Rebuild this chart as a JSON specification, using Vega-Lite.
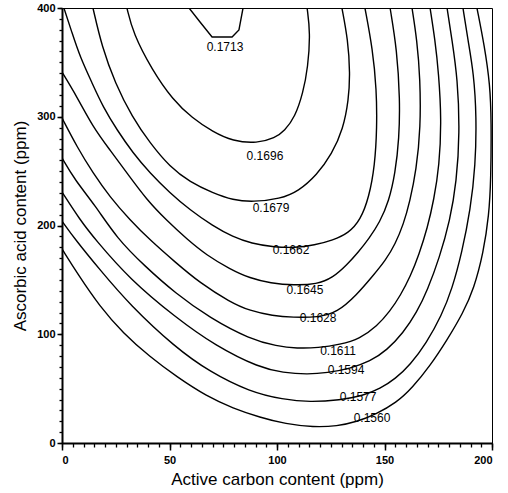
{
 "$schema": "https://vega.github.io/schema/vega-lite/v6.json",
 "width": 430, "height": 435,
 "autosize": {"type": "none"},
 "padding": {"left": 62, "top": 8, "right": 16, "bottom": 50},
 "background": "white",
 "config": {
  "view": {"stroke": "black", "strokeWidth": 1},
  "axis": {"grid": false, "domainColor": "black", "tickColor": "black", "labelColor": "black", "titleColor": "black", "labelFont": "Liberation Sans", "titleFont": "Liberation Sans"}
 },
 "datasets": {
  "contours": [
   {"c":"0.1713","i":0,"x":59.1,"y":400},{"c":"0.1713","i":1,"x":64.2,"y":387.1},{"c":"0.1713","i":2,"x":69.8,"y":373.3},{"c":"0.1713","i":3,"x":79.1,"y":373.3},{"c":"0.1713","i":4,"x":82.3,"y":379.8},{"c":"0.1713","i":5,"x":84.2,"y":400},
   {"c":"0.1696","i":0,"x":30.2,"y":400},{"c":"0.1696","i":1,"x":33.0,"y":377},{"c":"0.1696","i":2,"x":41.9,"y":343},{"c":"0.1696","i":3,"x":51.6,"y":315.4},{"c":"0.1696","i":4,"x":60.5,"y":298.9},{"c":"0.1696","i":5,"x":70.2,"y":286},{"c":"0.1696","i":6,"x":79.5,"y":277.5},{"c":"0.1696","i":7,"x":90.7,"y":275.5},{"c":"0.1696","i":8,"x":99.1,"y":280.5},{"c":"0.1696","i":9,"x":103.5,"y":287},{"c":"0.1696","i":10,"x":108.4,"y":299.8},{"c":"0.1696","i":11,"x":112.1,"y":321.8},{"c":"0.1696","i":12,"x":114.4,"y":345.7},{"c":"0.1696","i":13,"x":115.5,"y":377},{"c":"0.1696","i":14,"x":114.0,"y":400},
   {"c":"0.1679","i":0,"x":14.4,"y":400},{"c":"0.1679","i":1,"x":18.6,"y":364.1},{"c":"0.1679","i":2,"x":24.7,"y":331},{"c":"0.1679","i":3,"x":32.6,"y":299.8},{"c":"0.1679","i":4,"x":40.9,"y":275.9},{"c":"0.1679","i":5,"x":50.2,"y":253.8},{"c":"0.1679","i":6,"x":59.5,"y":240},{"c":"0.1679","i":7,"x":70.2,"y":229.9},{"c":"0.1679","i":8,"x":79.5,"y":223.4},{"c":"0.1679","i":9,"x":88.8,"y":221.6},{"c":"0.1679","i":10,"x":101.4,"y":224.5},{"c":"0.1679","i":11,"x":110,"y":231.5},{"c":"0.1679","i":12,"x":118.5,"y":246.5},{"c":"0.1679","i":13,"x":125.5,"y":265.5},{"c":"0.1679","i":14,"x":130.8,"y":289},{"c":"0.1679","i":15,"x":133.3,"y":315.4},{"c":"0.1679","i":16,"x":134.0,"y":340},{"c":"0.1679","i":17,"x":133.0,"y":370.6},{"c":"0.1679","i":18,"x":130.2,"y":400},
   {"c":"0.1662","i":0,"x":0.9,"y":400},{"c":"0.1662","i":1,"x":4.7,"y":377},{"c":"0.1662","i":2,"x":8.4,"y":355},{"c":"0.1662","i":3,"x":14.0,"y":331},{"c":"0.1662","i":4,"x":19.1,"y":309},{"c":"0.1662","i":5,"x":25.6,"y":287.8},{"c":"0.1662","i":6,"x":33.0,"y":266.7},{"c":"0.1662","i":7,"x":40.9,"y":248.3},{"c":"0.1662","i":8,"x":50.2,"y":229.9},{"c":"0.1662","i":9,"x":59.5,"y":214.3},{"c":"0.1662","i":10,"x":70.2,"y":199.5},{"c":"0.1662","i":11,"x":79.5,"y":189.5},{"c":"0.1662","i":12,"x":88,"y":183.5},{"c":"0.1662","i":13,"x":99.1,"y":180},{"c":"0.1662","i":14,"x":108,"y":179.5},{"c":"0.1662","i":15,"x":117.5,"y":182},{"c":"0.1662","i":16,"x":126,"y":186.5},{"c":"0.1662","i":17,"x":133.3,"y":193},{"c":"0.1662","i":18,"x":138.8,"y":205},{"c":"0.1662","i":19,"x":142.8,"y":226},{"c":"0.1662","i":20,"x":145.5,"y":255},{"c":"0.1662","i":21,"x":146.5,"y":290},{"c":"0.1662","i":22,"x":146.3,"y":325},{"c":"0.1662","i":23,"x":144.5,"y":362},{"c":"0.1662","i":24,"x":140.9,"y":400},
   {"c":"0.1645","i":0,"x":0,"y":341.1},{"c":"0.1645","i":1,"x":7.0,"y":318.2},{"c":"0.1645","i":2,"x":14.4,"y":290.6},{"c":"0.1645","i":3,"x":22.3,"y":269.4},{"c":"0.1645","i":4,"x":30.2,"y":248.3},{"c":"0.1645","i":5,"x":39.5,"y":223.4},{"c":"0.1645","i":6,"x":48.8,"y":204.5},{"c":"0.1645","i":7,"x":58.1,"y":187.5},{"c":"0.1645","i":8,"x":67.4,"y":172.5},{"c":"0.1645","i":9,"x":78.1,"y":160},{"c":"0.1645","i":10,"x":87.4,"y":151.5},{"c":"0.1645","i":11,"x":97,"y":147},{"c":"0.1645","i":12,"x":108,"y":145},{"c":"0.1645","i":13,"x":118.5,"y":146},{"c":"0.1645","i":14,"x":126.0,"y":152},{"c":"0.1645","i":15,"x":132.6,"y":164},{"c":"0.1645","i":16,"x":137.8,"y":175.5},{"c":"0.1645","i":17,"x":142.8,"y":188},{"c":"0.1645","i":18,"x":147.8,"y":203},{"c":"0.1645","i":19,"x":152,"y":222},{"c":"0.1645","i":20,"x":155,"y":248},{"c":"0.1645","i":21,"x":156.8,"y":280},{"c":"0.1645","i":22,"x":157.2,"y":315.4},{"c":"0.1645","i":23,"x":155.8,"y":361.4},{"c":"0.1645","i":24,"x":152.6,"y":400},
   {"c":"0.1628","i":0,"x":0,"y":298.9},{"c":"0.1628","i":1,"x":7.0,"y":272.2},{"c":"0.1628","i":2,"x":14.4,"y":248.3},{"c":"0.1628","i":3,"x":22.3,"y":226.2},{"c":"0.1628","i":4,"x":31.6,"y":205.1},{"c":"0.1628","i":5,"x":40.9,"y":186.7},{"c":"0.1628","i":6,"x":52.6,"y":166.4},{"c":"0.1628","i":7,"x":64.2,"y":147.1},{"c":"0.1628","i":8,"x":78.1,"y":129.7},{"c":"0.1628","i":9,"x":87.4,"y":121.5},{"c":"0.1628","i":10,"x":98,"y":117},{"c":"0.1628","i":11,"x":107.4,"y":115.5},{"c":"0.1628","i":12,"x":119,"y":115.5},{"c":"0.1628","i":13,"x":128,"y":120},{"c":"0.1628","i":14,"x":137,"y":136},{"c":"0.1628","i":15,"x":144.7,"y":154},{"c":"0.1628","i":16,"x":150.5,"y":168},{"c":"0.1628","i":17,"x":155,"y":183},{"c":"0.1628","i":18,"x":158.8,"y":201},{"c":"0.1628","i":19,"x":161.8,"y":222},{"c":"0.1628","i":20,"x":164.8,"y":251},{"c":"0.1628","i":21,"x":166.8,"y":290},{"c":"0.1628","i":22,"x":166.6,"y":335},{"c":"0.1628","i":23,"x":165.1,"y":370.6},{"c":"0.1628","i":24,"x":162.8,"y":400},
   {"c":"0.1611","i":0,"x":0,"y":262.1},{"c":"0.1611","i":1,"x":6.0,"y":241.8},{"c":"0.1611","i":2,"x":15.3,"y":218.9},{"c":"0.1611","i":3,"x":25.6,"y":188},{"c":"0.1611","i":4,"x":38.6,"y":162.5},{"c":"0.1611","i":5,"x":52.6,"y":137.9},{"c":"0.1611","i":6,"x":68.8,"y":114.9},{"c":"0.1611","i":7,"x":87.4,"y":95.5},{"c":"0.1611","i":8,"x":100,"y":89},{"c":"0.1611","i":9,"x":109.3,"y":87},{"c":"0.1611","i":10,"x":119.1,"y":87.5},{"c":"0.1611","i":11,"x":129.3,"y":90.5},{"c":"0.1611","i":12,"x":138.6,"y":96},{"c":"0.1611","i":13,"x":146.5,"y":107.5},{"c":"0.1611","i":14,"x":152.5,"y":121},{"c":"0.1611","i":15,"x":157.5,"y":136},{"c":"0.1611","i":16,"x":162,"y":153},{"c":"0.1611","i":17,"x":166,"y":173},{"c":"0.1611","i":18,"x":170,"y":198},{"c":"0.1611","i":19,"x":173,"y":224},{"c":"0.1611","i":20,"x":175.5,"y":255},{"c":"0.1611","i":21,"x":176.5,"y":297},{"c":"0.1611","i":22,"x":175.2,"y":340},{"c":"0.1611","i":23,"x":173.5,"y":370.6},{"c":"0.1611","i":24,"x":171.2,"y":400},
   {"c":"0.1594","i":0,"x":0,"y":230.8},{"c":"0.1594","i":1,"x":8.4,"y":205.1},{"c":"0.1594","i":2,"x":15.3,"y":187.5},{"c":"0.1594","i":3,"x":31.6,"y":150.5},{"c":"0.1594","i":4,"x":52.6,"y":115.9},{"c":"0.1594","i":5,"x":71.2,"y":89.5},{"c":"0.1594","i":6,"x":92.1,"y":69},{"c":"0.1594","i":7,"x":102.8,"y":64.8},{"c":"0.1594","i":8,"x":114.0,"y":63},{"c":"0.1594","i":9,"x":123.3,"y":64.5},{"c":"0.1594","i":10,"x":134.0,"y":68.5},{"c":"0.1594","i":11,"x":143.3,"y":75},{"c":"0.1594","i":12,"x":151.2,"y":85.5},{"c":"0.1594","i":13,"x":158.6,"y":101},{"c":"0.1594","i":14,"x":165,"y":120},{"c":"0.1594","i":15,"x":170,"y":140.7},{"c":"0.1594","i":16,"x":175.5,"y":170},{"c":"0.1594","i":17,"x":180.5,"y":205},{"c":"0.1594","i":18,"x":183.5,"y":240},{"c":"0.1594","i":19,"x":185,"y":285},{"c":"0.1594","i":20,"x":184,"y":335},{"c":"0.1594","i":21,"x":181.4,"y":370.6},{"c":"0.1594","i":22,"x":179.1,"y":400},
   {"c":"0.1577","i":0,"x":0,"y":204.1},{"c":"0.1577","i":1,"x":6.0,"y":187.5},{"c":"0.1577","i":2,"x":17.7,"y":159.1},{"c":"0.1577","i":3,"x":31.6,"y":126.9},{"c":"0.1577","i":4,"x":52.6,"y":88},{"c":"0.1577","i":5,"x":68.8,"y":65.3},{"c":"0.1577","i":6,"x":87.4,"y":47},{"c":"0.1577","i":7,"x":102.8,"y":40},{"c":"0.1577","i":8,"x":115.3,"y":37.5},{"c":"0.1577","i":9,"x":129.3,"y":39.5},{"c":"0.1577","i":10,"x":140,"y":43.5},{"c":"0.1577","i":11,"x":148,"y":50},{"c":"0.1577","i":12,"x":155,"y":59},{"c":"0.1577","i":13,"x":162,"y":72},{"c":"0.1577","i":14,"x":169.5,"y":92},{"c":"0.1577","i":15,"x":176.5,"y":117},{"c":"0.1577","i":16,"x":181.5,"y":142},{"c":"0.1577","i":17,"x":186,"y":175},{"c":"0.1577","i":18,"x":190,"y":215},{"c":"0.1577","i":19,"x":192.3,"y":255},{"c":"0.1577","i":20,"x":192.8,"y":300},{"c":"0.1577","i":21,"x":191.5,"y":340},{"c":"0.1577","i":22,"x":188.8,"y":370.6},{"c":"0.1577","i":23,"x":186.5,"y":400},
   {"c":"0.1560","i":0,"x":0,"y":178.4},{"c":"0.1560","i":1,"x":7.0,"y":156.3},{"c":"0.1560","i":2,"x":17.7,"y":125.1},{"c":"0.1560","i":3,"x":28.4,"y":101.1},{"c":"0.1560","i":4,"x":40.9,"y":79.1},{"c":"0.1560","i":5,"x":53.5,"y":60.7},{"c":"0.1560","i":6,"x":67.4,"y":42.8},{"c":"0.1560","i":7,"x":79.5,"y":32},{"c":"0.1560","i":8,"x":92.1,"y":23.5},{"c":"0.1560","i":9,"x":104,"y":17.5},{"c":"0.1560","i":10,"x":117,"y":14.5},{"c":"0.1560","i":11,"x":128,"y":15.5},{"c":"0.1560","i":12,"x":137,"y":19.5},{"c":"0.1560","i":13,"x":146,"y":26.5},{"c":"0.1560","i":14,"x":155.5,"y":37},{"c":"0.1560","i":15,"x":163,"y":51},{"c":"0.1560","i":16,"x":171.2,"y":71},{"c":"0.1560","i":17,"x":179.1,"y":94.7},{"c":"0.1560","i":18,"x":186.5,"y":119.5},{"c":"0.1560","i":19,"x":191.6,"y":142},{"c":"0.1560","i":20,"x":196,"y":175},{"c":"0.1560","i":21,"x":198.6,"y":209.7},{"c":"0.1560","i":22,"x":199.5,"y":241.8},{"c":"0.1560","i":23,"x":199.7,"y":297},{"c":"0.1560","i":24,"x":199.1,"y":329.2},{"c":"0.1560","i":25,"x":196.5,"y":365},{"c":"0.1560","i":26,"x":193.0,"y":400}
  ],
  "labels": [
   {"t":"0.1713","x":75.8,"y":364.1},
   {"t":"0.1696","x":94.4,"y":263.9},
   {"t":"0.1679","x":97.2,"y":216.1},
   {"t":"0.1662","x":106.5,"y":177.5},
   {"t":"0.1645","x":113.0,"y":140.7},
   {"t":"0.1628","x":119.1,"y":114.9},
   {"t":"0.1611","x":128.4,"y":84.6},
   {"t":"0.1594","x":132.1,"y":67.1},
   {"t":"0.1577","x":137.7,"y":42.3},
   {"t":"0.1560","x":144.2,"y":23}
  ]
 },
 "layer": [
  {
   "data": {"name": "contours"},
   "transform": [{"filter": "datum.c != '0.1713'"}],
   "mark": {"type": "line", "color": "black", "strokeWidth": 1.4, "clip": true, "interpolate": "basis"},
   "encoding": {
    "x": {"field": "x", "type": "quantitative", "scale": {"domain": [0, 200], "nice": false, "zero": false},
     "axis": {"orient": "bottom", "values": [0, 50, 100, 150, 200], "tickSize": 7, "tickWidth": 1.5, "domainWidth": 2, "labelFontSize": 11, "labelFontWeight": "bold", "labelPadding": 4, "title": "Active carbon content (ppm)", "titleFontSize": 17, "titleFontWeight": "normal", "titlePadding": 6}},
    "y": {"field": "y", "type": "quantitative", "scale": {"domain": [0, 400], "nice": false, "zero": false},
     "axis": {"orient": "left", "values": [0, 100, 200, 300, 400], "tickSize": 5, "tickWidth": 1.5, "domainWidth": 2, "labelFontSize": 11, "labelFontWeight": "bold", "labelPadding": 2, "title": "Ascorbic acid content (ppm)", "titleFontSize": 17, "titleFontWeight": "normal", "titlePadding": 7}},
    "detail": {"field": "c"},
    "order": {"field": "i", "type": "quantitative"}
   }
  },
  {
   "data": {"name": "contours"},
   "transform": [{"filter": "datum.c == '0.1713'"}],
   "mark": {"type": "line", "color": "black", "strokeWidth": 1.4, "clip": true, "interpolate": "linear"},
   "encoding": {
    "x": {"field": "x", "type": "quantitative", "axis": null},
    "y": {"field": "y", "type": "quantitative", "axis": null},
    "detail": {"field": "c"},
    "order": {"field": "i", "type": "quantitative"}
   }
  },
  {
   "data": {"name": "labels"},
   "mark": {"type": "text", "font": "Liberation Sans", "fontSize": 12, "color": "black", "baseline": "middle", "align": "center"},
   "encoding": {
    "x": {"field": "x", "type": "quantitative",
     "axis": {"orient": "bottom", "values": [0,5,10,15,20,25,30,35,40,45,50,55,60,65,70,75,80,85,90,95,100,105,110,115,120,125,130,135,140,145,150,155,160,165,170,175,180,185,190,195,200], "labels": false, "domain": false, "tickSize": 4, "tickWidth": 1.3, "title": null}},
    "y": {"field": "y", "type": "quantitative",
     "axis": {"orient": "left", "values": [0,10,20,30,40,50,60,70,80,90,100,110,120,130,140,150,160,170,180,190,200,210,220,230,240,250,260,270,280,290,300,310,320,330,340,350,360,370,380,390,400], "labels": false, "domain": false, "tickSize": 3, "tickWidth": 1.3, "title": null}},
    "text": {"field": "t"}
   }
  }
 ],
 "resolve": {"axis": {"x": "independent", "y": "independent"}}
}
